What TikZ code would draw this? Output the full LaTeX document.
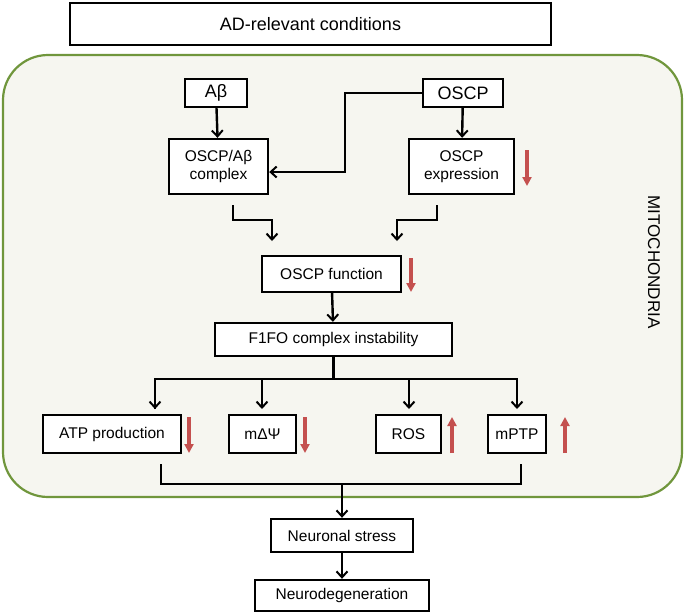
\documentclass[tikz,border=0pt]{standalone}
\usepackage{fontspec}
\setmainfont{Liberation Sans}
\usetikzlibrary{positioning,arrows.meta}
\definecolor{mitoline}{RGB}{112,150,60}
\definecolor{mitofill}{RGB}{246,246,240}
\definecolor{redarrow}{RGB}{196,80,78}

\begin{document}
\begin{tikzpicture}[%
			x=1pt, y=-1pt,
			align = center,
			font=\fontsize{15.5}{18}\selectfont,
			>={Straight Barb[length=6pt,width=11pt,line width=2pt]},
			line width=2.4pt,
			box/.style={%
				draw,
				fill=white,
				inner sep=2pt
			},
			link/.style={->},
			down/.style={-{Triangle[length=9pt,width=9pt]}, draw=redarrow, line width=4pt},
			]
			\useasboundingbox (0,0) rectangle (685,611);
			\draw[line width=2.2pt, draw=mitoline, fill=mitofill, rounded corners=45pt] (3,55) rectangle (682,497);
			\node[box, minimum width=481pt, minimum height=42pt, font=\fontsize{18}{20}\selectfont] (ad) at (310.5,24) {AD-relevant conditions};
			\node[rotate=-90, font=\fontsize{17}{19}\selectfont] (mito) at (654,262) {MITOCHONDRIA};
			\node[box, minimum width=62pt, minimum height=28pt, font=\fontsize{18}{20}\selectfont] (ab) at (216,93) {Aβ};
			\node[box, minimum width=80pt, minimum height=28pt, font=\fontsize{18}{20}\selectfont] (oscp) at (463,93) {OSCP};
			\node[box, minimum width=99pt, minimum height=55pt] (cplx) at (218.5,166.5) {OSCP/Aβ\\complex};
			\node[box, minimum width=105pt, minimum height=55pt] (expr) at (461.5,166.5) {OSCP\\expression};
			\node[box, minimum width=139pt, minimum height=36pt] (func) at (331.5,274) {OSCP function};
			\node[box, minimum width=237pt, minimum height=33pt] (f1fo) at (333.5,339.5) {F1FO complex instability};
			\node[box, minimum width=138pt, minimum height=38pt] (atp) at (112,434) {ATP production};
			\node[box, minimum width=67pt, minimum height=38pt] (mdp) at (262.5,434) {mΔΨ};
			\node[box, minimum width=65pt, minimum height=38pt] (ros) at (408.5,434) {ROS};
			\node[box, minimum width=58pt, minimum height=38pt] (mptp) at (517,434) {mPTP};
			\node[box, minimum width=142pt, minimum height=33pt] (stress) at (342,535.5) {Neuronal stress};
			\node[box, minimum width=174pt, minimum height=31pt] (neuro) at (342,595.5) {Neurodegeneration};
			\coordinate (fl) at (272,241);
			\coordinate (fr) at (397,241);
			\coordinate (hub) at (342,484);

			% upper part
			\draw[link] (ab) -- (cplx);
			\draw[link] (oscp) -- (expr);
			\draw[link] (oscp.west) -| (345,172) -- (cplx.east |- 0,172);
			\draw[link] (233,205) -- (233,220) -| (fl);
			\draw[link] (437,205) -- (437,220) -| (fr);
			\draw[link] (func) -- (f1fo);
			% branching
			\draw (f1fo) -- (333.5,379);
			\draw[link] (262,379) -- (262,409);
			\draw[link] (409,379) -- (409,409);
			\draw[link] (155,409) |- (333.5,379) -| (517,409);
			\draw[link] (155,385) -- (155,409);
			% merging
			\draw (161,464) |- (hub) -| (521,464);
			\draw[link] (hub) -- (stress);
			\draw[link] (stress) -- (neuro);
			% red arrows
			\draw[down] (527,150) -- (527,186);
			\draw[down] (411,258) -- (411,292);
			\draw[down] (189,417) -- (189,453);
			\draw[down] (305,417) -- (305,453);
			\draw[down] (452,453) -- (452,417);
			\draw[down] (565,453) -- (565,417);
			\end{tikzpicture}
\end{document}
